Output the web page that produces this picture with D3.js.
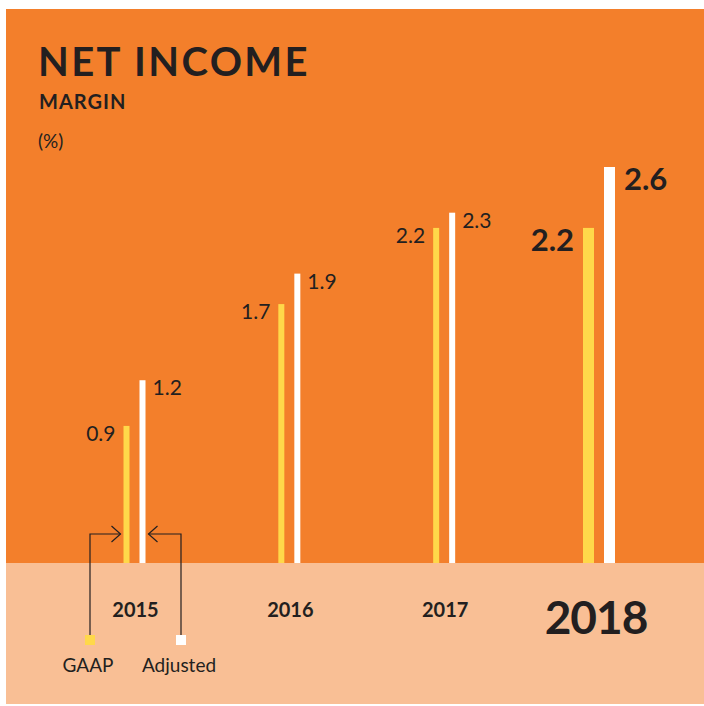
<!DOCTYPE html>
<html><head><meta charset="utf-8">
<script src="https://cdn.jsdelivr.net/npm/d3@7"></script>
<style>
html,body{margin:0;padding:0;background:#fff;}
svg{display:block;}
text{font-family:Lato,"Open Sans",sans-serif;fill:#231F20;}
</style></head>
<body>
<script>
const years = ["2015", "2016", "2017", "2018"];
const gaap = [0.9, 1.7, 2.2, 2.2];
const adjusted = [1.2, 1.9, 2.3, 2.6];
const highlightYear = "2018";
const legendLabels = ["GAAP", "Adjusted"];

const W = 704, H = 706;
const orange = "#F37F2B", peach = "#F9BF95", yellow = "#FFD84A", dark = "#231F20";
const baseY = 563;

const svg = d3.select("body").append("svg").attr("width", W).attr("height", H);
svg.append("rect").attr("x", 6).attr("y", 9).attr("width", W - 6).attr("height", baseY - 9).attr("fill", orange);
svg.append("rect").attr("x", 6).attr("y", baseY).attr("width", W - 6).attr("height", 704 - baseY).attr("fill", peach);

// titles
svg.append("text").attr("x", 38).attr("y", 76).attr("font-size", 40).attr("font-weight", 700)
  .attr("letter-spacing", 2.4).text("NET INCOME");
svg.append("text").attr("x", 39).attr("y", 109).attr("font-size", 20).attr("font-weight", 700)
  .attr("letter-spacing", 1).text("MARGIN");
svg.append("text").attr("x", 38).attr("y", 148).attr("font-size", 19).text("(%)");

const x = d3.scalePoint().domain(years).range([134.5, 599]);
const y = d3.scaleLinear().domain([0, 2.6]).range([baseY, 167]);

const gap = 10;
years.forEach((yr, i) => {
  const hi = yr === highlightYear;
  const bw = hi ? 11 : 6;
  const cx = x(yr);
  const gx = cx - gap / 2 - bw, ax = cx + gap / 2;
  svg.append("rect").attr("x", gx).attr("y", y(gaap[i])).attr("width", bw)
    .attr("height", baseY - y(gaap[i])).attr("fill", yellow);
  svg.append("rect").attr("x", ax).attr("y", y(adjusted[i])).attr("width", bw)
    .attr("height", baseY - y(adjusted[i])).attr("fill", "#fff");
  const fs = hi ? 31 : 21;
  const cap = hi ? 23 : 15;
  svg.append("text").attr("x", gx - (hi ? 9 : 8)).attr("y", y(gaap[i]) + cap)
    .attr("text-anchor", "end").attr("font-size", fs).attr("font-weight", hi ? 700 : 400)
    .text(d3.format(".1f")(gaap[i]));
  svg.append("text").attr("x", ax + bw + (hi ? 9 : 7)).attr("y", y(adjusted[i]) + cap)
    .attr("font-size", fs).attr("font-weight", hi ? 700 : 400)
    .text(d3.format(".1f")(adjusted[i]));
  svg.append("text").attr("x", cx + (hi ? -3 : 1)).attr("y", hi ? 634 : 617)
    .attr("text-anchor", "middle").attr("font-size", hi ? 46 : 20).attr("font-weight", 700)
    .attr("letter-spacing", hi ? -1 : 0)
    .text(yr);
});

// legend with pointers to first year's bars
const first = years[0];
const fcx = x(first);
const lineY = 534;
const gL = fcx - gap / 2 - 6, aR = fcx + gap / 2 + 6;
const legendX = [90, 181];
const line = d3.line();
svg.append("path").attr("d", line([[legendX[0], 637], [legendX[0], lineY], [gL - 3, lineY]]))
  .attr("fill", "none").attr("stroke", dark).attr("stroke-width", 1.2);
svg.append("path").attr("d", line([[gL - 12, lineY - 8], [gL - 3, lineY], [gL - 12, lineY + 8]]))
  .attr("fill", "none").attr("stroke", dark).attr("stroke-width", 1.2);
svg.append("path").attr("d", line([[legendX[1], 637], [legendX[1], lineY], [aR + 3, lineY]]))
  .attr("fill", "none").attr("stroke", dark).attr("stroke-width", 1.2);
svg.append("path").attr("d", line([[aR + 12, lineY - 8], [aR + 3, lineY], [aR + 12, lineY + 8]]))
  .attr("fill", "none").attr("stroke", dark).attr("stroke-width", 1.2);

[yellow, "#fff"].forEach((c, i) => {
  svg.append("rect").attr("x", legendX[i] - 5).attr("y", 635).attr("width", 10).attr("height", 10).attr("fill", c);
  svg.append("text").attr("x", legendX[i] - 2).attr("y", 672).attr("text-anchor", "middle")
    .attr("font-size", 19).text(legendLabels[i]);
});
</script>
</body></html>
